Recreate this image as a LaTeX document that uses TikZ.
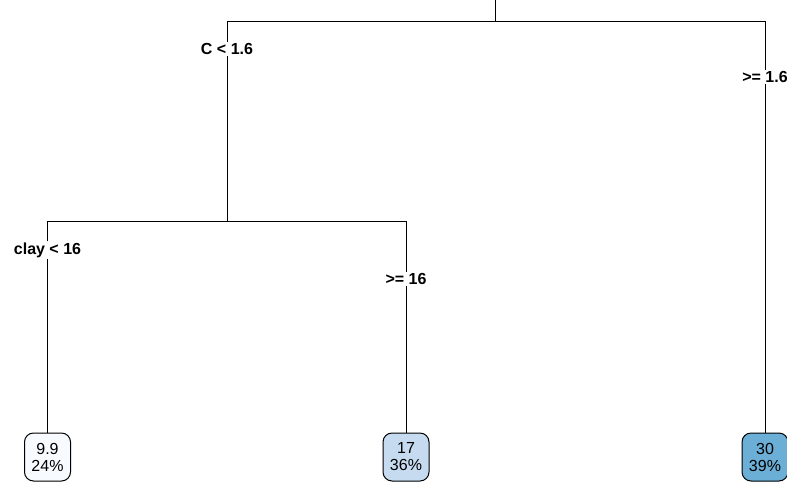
\documentclass[tikz,border=0pt]{standalone}
\usepackage{fontspec}
\setmainfont{Liberation Sans}
\definecolor{leafA}{HTML}{F7FBFF}
\definecolor{leafB}{HTML}{C6DBEF}
\definecolor{leafC}{HTML}{6BAED6}
\begin{document}
\begin{tikzpicture}[x=1pt,y=-1pt,
  edge/.style={line width=1pt, black},
  split/.style={fill=white, inner sep=1.5pt, font=\fontsize{16}{18}\selectfont\bfseries},
  leaf/.style={draw, line width=1pt, rounded corners=9pt, minimum width=46pt, minimum height=48pt, inner sep=0pt, align=center, font=\fontsize{16}{17}\selectfont}]
\useasboundingbox (0,0) rectangle (787,483);
\coordinate (top) at (495,0);
\coordinate (r) at (495,21);
\coordinate (rl) at (227,21);
\coordinate (rr) at (765,21);
\coordinate (n2) at (227,221);
\coordinate (n2l) at (47.5,221);
\coordinate (n2r) at (406,221);
\node[leaf, fill=leafA] (l1) at (47.5,457) {9.9\\24\%};
\node[leaf, fill=leafB] (l2) at (406,457) {17\\36\%};
\node[leaf, fill=leafC] (l3) at (765,457) {30\\39\%};
\draw[edge] (top) -- (r);
\draw[edge] (rl) -- (rr);
\draw[edge] (rl) -- (n2);
\draw[edge] (rr) -- (l3.north);
\draw[edge] (n2l) -- (n2r);
\draw[edge] (n2l) -- (l1.north);
\draw[edge] (n2r) -- (l2.north);
\node[split] (s1) at (227,49) {C < 1.6};
\node[split] (s2) at (765,77) {>= 1.6};
\node[split] (s3) at (47.5,250) {clay < 16};
\node[split] (s4) at (406,279) {>= 16};
\end{tikzpicture}
\end{document}
